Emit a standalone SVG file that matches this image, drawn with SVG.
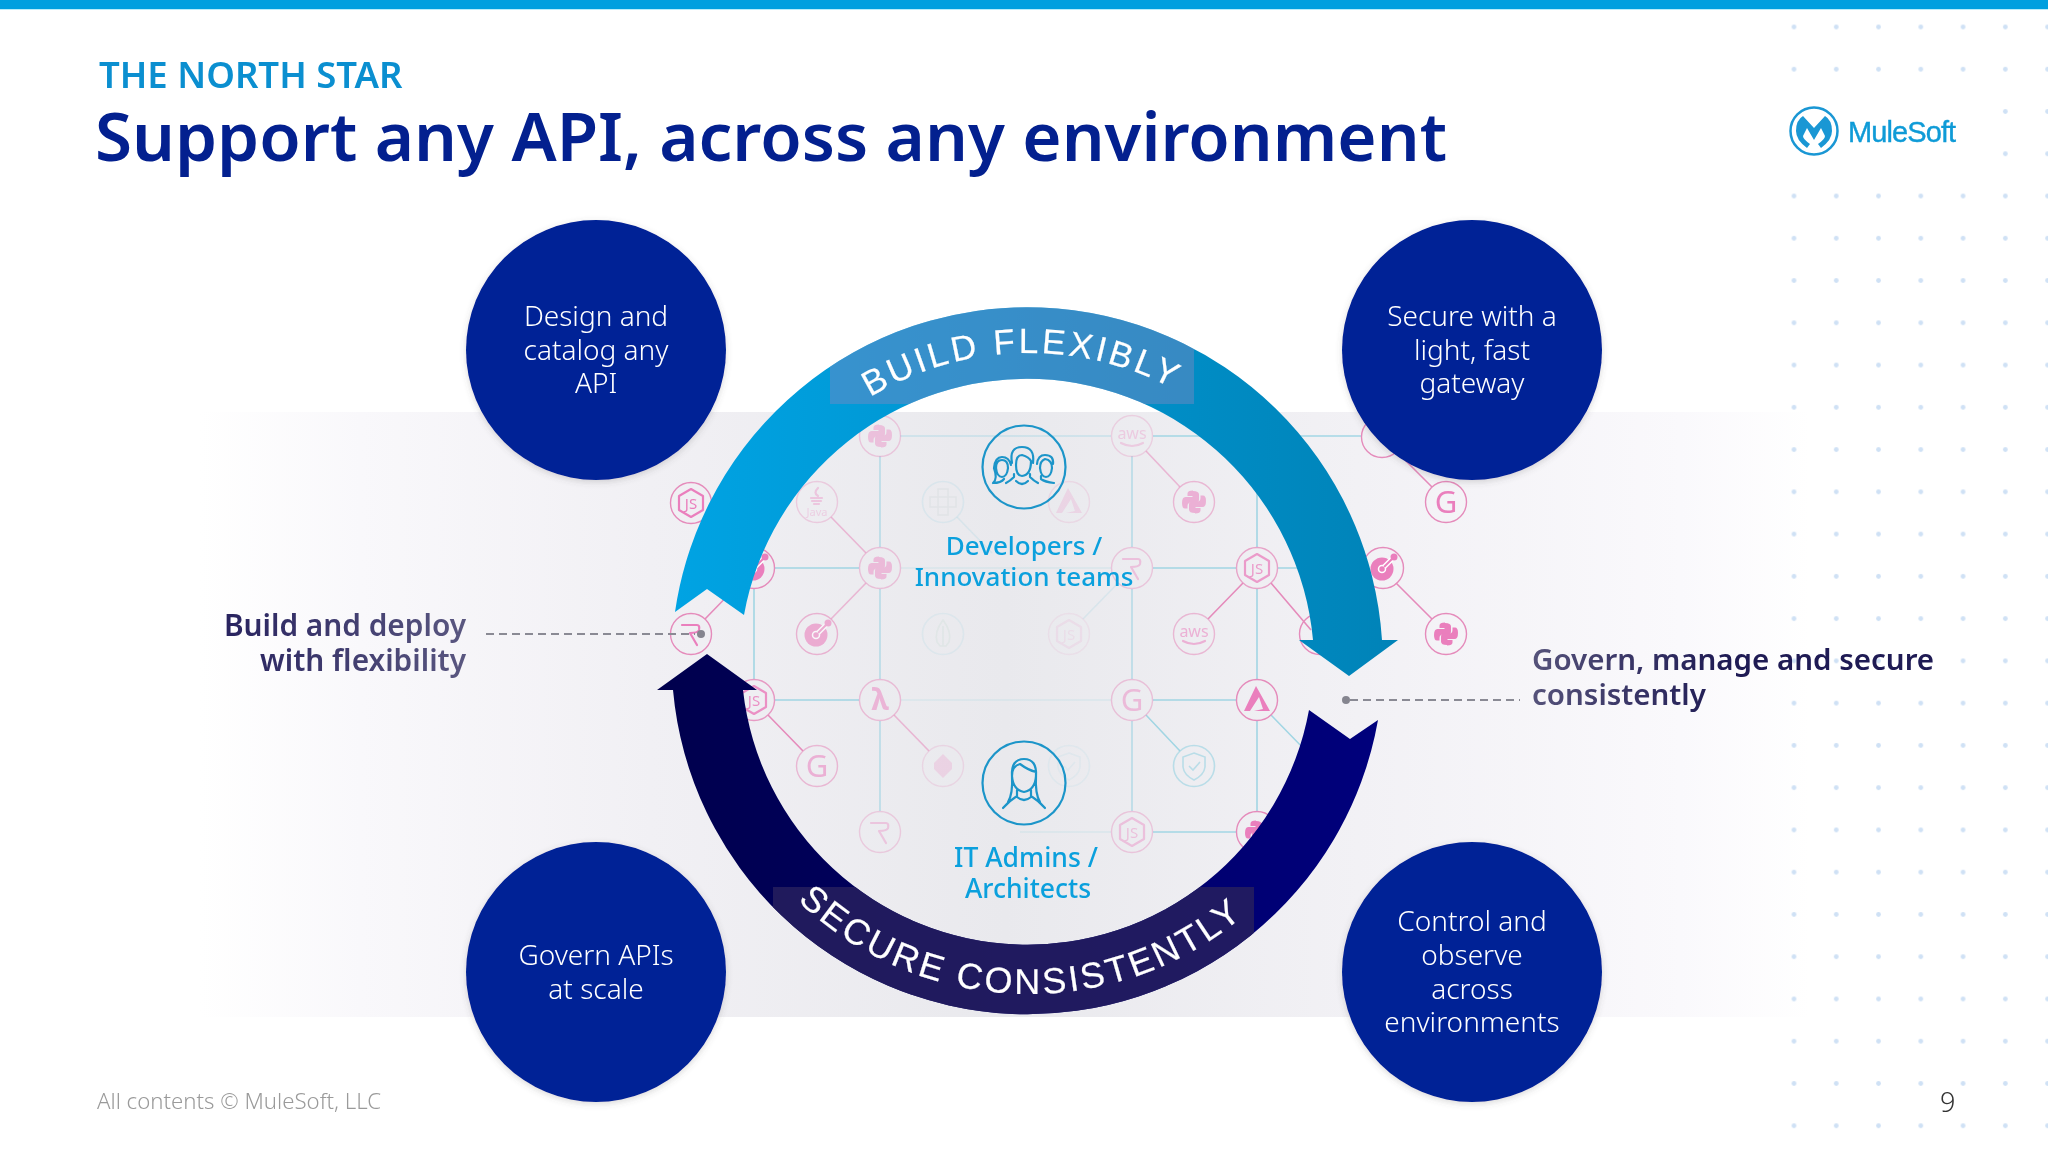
<svg xmlns="http://www.w3.org/2000/svg" width="2048" height="1153" viewBox="0 0 2048 1153">
<style>
text{font-family:"Noto Sans","Open Sans","Liberation Sans",sans-serif}
.ring{fill:none;stroke:#e58bbb;stroke-width:1.4}
.ic{fill:#ea7fbd}
.is{fill:none;stroke:#ea7fbd;stroke-width:2.2;stroke-linecap:round;stroke-linejoin:round}
.teal{fill:none;stroke:#8fd0e0;stroke-width:1.6}
.pink{fill:none;stroke:#e58bbb;stroke-width:1.6}
.bubble{fill:#012096;filter:url(#sh)}
.bt{fill:#fff;font-size:28px;font-weight:300;text-anchor:middle}
.lab{font-size:29.5px;font-weight:600}
.who{fill:#0ba0dd;font-size:26px;font-weight:500;text-anchor:middle}
.face{fill:none;stroke:#1c95c9;stroke-width:2.2;stroke-linecap:round;stroke-linejoin:round}
.arc{fill:#fff;stroke:#fff;stroke-width:.2;font-family:"Liberation Sans",Arial,sans-serif}
.glyph{fill:#ea7fbd;text-anchor:middle}
.dash{fill:none;stroke:#8a8a94;stroke-width:2;stroke-dasharray:8 5}
</style>
<defs>
<linearGradient id="panel" gradientUnits="userSpaceOnUse" x1="200" y1="0" x2="1810" y2="0">
<stop offset="0" stop-color="#fff"/><stop offset=".1" stop-color="#f9f8fb"/><stop offset=".28" stop-color="#f1f0f4"/><stop offset=".5" stop-color="#e9e9ed"/><stop offset=".72" stop-color="#f2f1f5"/><stop offset=".92" stop-color="#faf9fc"/><stop offset="1" stop-color="#fff"/>
</linearGradient>
<linearGradient id="blue" gradientUnits="userSpaceOnUse" x1="675" y1="0" x2="1398" y2="0"><stop offset="0" stop-color="#00a3e3"/><stop offset="1" stop-color="#0083b8"/></linearGradient>
<linearGradient id="navy" gradientUnits="userSpaceOnUse" x1="657" y1="0" x2="1378" y2="0"><stop offset="0" stop-color="#00004d"/><stop offset="1" stop-color="#00007c"/></linearGradient>
<linearGradient id="gov" gradientUnits="userSpaceOnUse" x1="1532" y1="0" x2="1850" y2="0"><stop offset="0" stop-color="#55527a"/><stop offset=".6" stop-color="#1f1b54"/></linearGradient>
<linearGradient id="bld" gradientUnits="userSpaceOnUse" x1="225" y1="0" x2="466" y2="0"><stop offset="0" stop-color="#28235f"/><stop offset="1" stop-color="#5a5780"/></linearGradient>
<pattern id="dots" patternUnits="userSpaceOnUse" x="1772.87" y="5.87" width="42.27" height="42.26"><circle cx="21.13" cy="21.13" r="2.4" fill="#cfe1f5"/></pattern>
<filter id="sh" x="-10%" y="-10%" width="120%" height="120%"><feDropShadow dx="0" dy="2" stdDeviation="3" flood-color="#555" flood-opacity=".22"/></filter>
<path id="pt" d="M722,660 A307,307 0 0 1 1336,660"/>
<path id="pb" d="M695,660 A334,334 0 0 0 1363,660"/>
<path id="shape-build" d="M675,612 A355.700,355.700 0 0 1 1382,640 L1398,640 L1349,676 L1299,640 L1313,640 A287.400,287.400 0 0 0 744,615 L707,589 Z"/>
<path id="shape-secure" d="M707,654 L757,690 L743,690 A286.200,286.200 0 0 0 1309,710 L1350,739 L1378,720 A355.900,355.900 0 0 1 673,690 L657,690 Z"/>
<clipPath id="clip-build"><use href="#shape-build"/></clipPath>
<clipPath id="clip-secure"><use href="#shape-secure"/></clipPath>
<g id="py"><path class="ic" d="M-1,-11 q6,0 6,3.500 v5 q0,3 -3,3 h-5 q-3.500,0 -3.500,3.500 v2.500 h-2.500 q-3,0 -3,-5.500 q0,-6 3.500,-6 h7 v-1 h-5 v-2.500 q0,-3 5.500,-3z"/><path class="ic" d="M1,11 q-6,0 -6,-3.500 v-5 q0,-3 3,-3 h5 q3.500,0 3.500,-3.500 v-2.500 h2.500 q3,0 3,5.500 q0,6 -3.500,6 h-7 v1 h5 v2.500 q0,3 -5.500,3z"/></g>
<g id="tg"><circle class="ic" cx="-1" cy="1" r="11.500"/><circle cx="-1" cy="1" r="3.500" fill="none" stroke="#fff" stroke-width="1.500"/><path d="M1,-1 L11,-11" stroke="#fff" stroke-width="5"/><path d="M1,-1 L11,-11" stroke="#ea7fbd" stroke-width="2"/><circle class="ic" cx="11" cy="-11" r="3.500"/></g>
<g id="js"><path class="is" stroke-width="1.800" d="M0,-14 L12,-7 V7 L0,14 L-12,7 V-7Z"/><text class="glyph" y="6" font-size="15">JS</text></g>
<path id="rr" class="is" d="M-9,-9 H6 Q9,-9 8,-4 Q7,-1 -1,-1 L6,11"/>
<g id="aw"><text class="glyph" y="3" font-size="16">aws</text><path class="is" stroke-width="1.300" d="M-11,7 Q0,13 11,7"/></g>
<g id="gg"><text class="glyph" y="11" font-size="31">G</text></g>
<path id="az" class="ic" d="M-1,-14 L13,11 H-3 L6,9 L2,-3 L-7,11 H-13Z"/>
<g id="la"><text class="glyph" y="10" font-size="30" font-weight="700">λ</text></g>
<path id="sd" d="M0,-13 L11,-9 V1 Q10,9 0,14 Q-10,9 -11,1 V-9Z M-5,0 L-1,4 L6,-4" fill="none" stroke="#8fd0e0" stroke-width="1.600"/>
<path id="dm" class="ic" d="M0,-12 L9,-3 V3 L0,12 L-9,3 V-3Z"/>
<path id="gr" d="M-5,-13 H5 V-5 H13 V5 H5 V13 H-5 V5 H-13 V-5 H-5Z M-5,-5 H5 V5 H-5Z" fill="none" stroke="#b8c8c8" stroke-width="1.600"/>
<path id="lf" d="M0,-14 Q9,-2 6,8 L3,12 H-3 L-6,8 Q-9,-2 0,-14Z M0,-8 V12" fill="none" stroke="#a8d0bc" stroke-width="1.600"/>
<g id="jv"><path class="is" stroke-width="1.300" d="M1,-14 Q-4,-9 1,-6 M-6,-4 H5 M-5,-1 H4 M-3,2 H2"/><text class="glyph" y="14" font-size="11" fill-opacity=".8">Java</text></g>
</defs>
<rect width="2048" height="1153" fill="#fff"/>
<rect id="panel-bg" x="200" y="412" width="1610" height="605" fill="url(#panel)"/>
<rect id="dot-field" x="1772" y="5" width="276" height="1148" fill="url(#dots)"/>
<rect x="1772" y="88" width="212" height="88" fill="#fff"/>
<rect x="0" y="0" width="2048" height="9" fill="#009fdf"/>
<rect x="0" y="9" width="2048" height="1" fill="#b8ecfb"/>
<g id="connectors">
<g class="teal" opacity=".8">
<path opacity=".5" d="M900,436 H1111"/><path d="M1153,436 H1361"/>
<path d="M775,568 H859 M1153,568 H1236 M1278,568 H1362"/><path opacity=".25" d="M901,568 H1111"/>
<path d="M775,700 H859 M1153,700 H1236"/><path opacity=".25" d="M901,700 H1111"/>
<path d="M1153,832 H1236"/><path opacity=".25" d="M1020,832 H1111"/>
<path d="M754,589 V679"/><path opacity=".7" d="M880,456 V547 M880,589 V679 M880,721 V811 M1132,456 V547 M1132,589 V679 M1132,721 V811"/>
<path d="M1257,456 V547 M1257,589 V679 M1257,721 V811"/>
<path d="M1146,715 L1180,751 M1271,715 L1306,751"/>
<path opacity=".25" d="M1118,583 L1083,619 M957,517 L992,553"/>
</g>
<g class="pink">
<path d="M705,619 L740,583 M768,715 L803,751 M1396,451 L1432,487 M1396,583 L1432,619 M1243,583 L1208,619 M1271,583 L1311,630"/>
<path opacity=".55" d="M831,517 L866,553 M866,583 L831,619 M894,715 L929,751 M1146,451 L1180,487"/>
</g>
</g>
<g id="tech-nodes">
<g id="n01" transform="translate(880,436)" opacity=".4"><circle class="ring" r="20.500"/><use href="#py"/></g>
<g id="n02" transform="translate(1132,436)" opacity=".3"><circle class="ring" r="20.500"/><use href="#aw"/></g>
<g id="n03" transform="translate(1382,437)"><circle class="ring" r="20.500"/></g>
<g id="n04" transform="translate(691,503)"><circle class="ring" r="20.500"/><use href="#js"/></g>
<g id="n05" transform="translate(817,502)" opacity=".35"><circle class="ring" r="20.500"/><use href="#jv"/></g>
<g id="n06" transform="translate(943,502)" opacity=".18"><circle class="teal" r="20.500"/><use href="#gr"/></g>
<g id="n07" transform="translate(1069,502)" opacity=".2"><circle class="ring" r="20.500"/><use href="#az"/></g>
<g id="n08" transform="translate(1194,502)" opacity=".55"><circle class="ring" r="20.500"/><use href="#py"/></g>
<g id="n09" transform="translate(1446,502)"><circle class="ring" r="20.500"/><use href="#gg"/></g>
<g id="n10" transform="translate(754,568)"><circle class="ring" r="20.500"/><use href="#tg"/></g>
<g id="n11" transform="translate(880,568)" opacity=".45"><circle class="ring" r="20.500"/><use href="#py"/></g>
<g id="n12" transform="translate(1132,568)" opacity=".4"><circle class="ring" r="20.500"/><use href="#rr"/></g>
<g id="n13" transform="translate(1257,568)" opacity=".75"><circle class="ring" r="20.500"/><use href="#js"/></g>
<g id="n14" transform="translate(1383,568)"><circle class="ring" r="20.500"/><use href="#tg"/></g>
<g id="n15" transform="translate(691,634)"><circle class="ring" r="20.500"/><use href="#rr"/></g>
<g id="n16" transform="translate(817,634)" opacity=".6"><circle class="ring" r="20.500"/><use href="#tg"/></g>
<g id="n17" transform="translate(943,634)" opacity=".15"><circle class="teal" r="20.500"/><use href="#lf"/></g>
<g id="n18" transform="translate(1069,634)" opacity=".12"><circle class="ring" r="20.500"/><use href="#js"/></g>
<g id="n19" transform="translate(1194,634)" opacity=".55"><circle class="ring" r="20.500"/><use href="#aw"/></g>
<g id="n20" transform="translate(1320,634)"><circle class="ring" r="20.500"/></g>
<g id="n21" transform="translate(1446,634)"><circle class="ring" r="20.500"/><use href="#py"/></g>
<g id="n22" transform="translate(754,700)" opacity=".85"><circle class="ring" r="20.500"/><use href="#js"/></g>
<g id="n23" transform="translate(880,700)" opacity=".5"><circle class="ring" r="20.500"/><use href="#la"/></g>
<g id="n24" transform="translate(1132,700)" opacity=".45"><circle class="ring" r="20.500"/><use href="#gg"/></g>
<g id="n25" transform="translate(1257,700)"><circle class="ring" r="20.500"/><use href="#az"/></g>
<g id="n26" transform="translate(817,766)" opacity=".55"><circle class="ring" r="20.500"/><use href="#gg"/></g>
<g id="n27" transform="translate(943,766)" opacity=".22"><circle class="ring" r="20.500"/><use href="#dm"/></g>
<g id="n28" transform="translate(1069,766)" opacity=".12"><circle class="teal" r="20.500"/><use href="#sd"/></g>
<g id="n29" transform="translate(1194,766)" opacity=".55"><circle class="teal" r="20.500"/><use href="#sd"/></g>
<g id="n30" transform="translate(880,832)" opacity=".35"><circle class="ring" r="20.500"/><use href="#rr"/></g>
<g id="n31" transform="translate(1132,832)" opacity=".4"><circle class="ring" r="20.500"/><use href="#js"/></g>
<g id="n32" transform="translate(1257,832)"><circle class="ring" r="20.500"/><use href="#py"/></g>
</g>
<g id="arrow-build"><use href="#shape-build" fill="url(#blue)"/>
<rect x="830" y="300" width="364" height="104" fill="#7a88c0" opacity=".45" clip-path="url(#clip-build)"/>
<text class="arc" font-size="35" letter-spacing="3.200" text-anchor="middle"><textPath href="#pt" startOffset="49.200%">BUILD FLEXIBLY</textPath></text></g>
<g id="arrow-secure"><use href="#shape-secure" fill="url(#navy)"/>
<rect x="773" y="887" width="481" height="130" fill="#261f5e" opacity=".85" clip-path="url(#clip-secure)"/>
<text class="arc" font-size="36" letter-spacing="3" text-anchor="middle"><textPath href="#pb" startOffset="49%">SECURE CONSISTENTLY</textPath></text></g>
<g id="node-design"><circle class="bubble" cx="596" cy="350" r="130"/><text class="bt"><tspan x="596" y="326">Design and</tspan><tspan x="596" y="360">catalog any</tspan><tspan x="596" y="393">API</tspan></text></g>
<g id="node-secure"><circle class="bubble" cx="1472" cy="350" r="130"/><text class="bt"><tspan x="1472" y="326">Secure with a</tspan><tspan x="1472" y="360">light, fast</tspan><tspan x="1472" y="393">gateway</tspan></text></g>
<g id="node-govern"><circle class="bubble" cx="596" cy="972" r="130"/><text class="bt"><tspan x="596" y="965">Govern APIs</tspan><tspan x="596" y="999">at scale</tspan></text></g>
<g id="node-control"><circle class="bubble" cx="1472" cy="972" r="130"/><text class="bt"><tspan x="1472" y="931">Control and</tspan><tspan x="1472" y="965">observe</tspan><tspan x="1472" y="999">across</tspan><tspan x="1472" y="1032">environments</tspan></text></g>
<g id="node-developers"><circle class="face" cx="1024" cy="467" r="41.500" stroke-width="2.500"/>
<path class="face" stroke-width="2" d="M1016,465 q0,-10 6,-10 q7,2 9,6 q0,14 -9,15 q-6,0 -6,-11z M1012,463 q-3,-16 10,-16 q13,0 11,16 M1014,474 v3 q-4,4 -8,6 M1030,474 v3 q4,4 8,6 M1016,481 q6,6 12,0 M996,468 q0,-8 6,-8 q6,0 6,8 q-1,9 -6,9 q-5,0 -6,-9z M993,483 q5,-4 1,-15 q1,-11 8,-11 q7,0 9,8 M993,483 q8,0 11,-4 M1040,468 q0,-7 5,-9 q7,1 7,9 q-1,9 -6,9 q-5,0 -6,-9z M1037,464 q1,-9 8,-9 q9,0 8,9 M1041,476 v3 q4,3 13,4"/>
<text class="who"><tspan x="1024" y="555">Developers /</tspan><tspan x="1024" y="586">Innovation teams</tspan></text></g>
<g id="node-admins"><circle class="face" cx="1024" cy="783" r="41.500" stroke-width="2.500"/>
<path class="face" d="M1012,776 q-1,-17 12,-17 q13,0 12,17 q-1,14 -12,16 q-11,-2 -12,-16z M1012,776 q0,-10 8,-12 q8,6 16,8 M1008,802 q5,-8 4,-26 M1040,802 q-5,-8 -4,-26 M1017,790 v6 q-8,5 -14,12 M1031,790 v6 q8,5 14,12 M1017,797 q7,6 14,0"/>
<text class="who" style="font-size:26.500px"><tspan x="1026" y="867">IT Admins /</tspan><tspan x="1028" y="898">Architects</tspan></text></g>
<g id="label-left"><path class="dash" d="M486,634 H695"/><circle cx="701" cy="634" r="4" fill="#85858f"/><text class="lab" text-anchor="end" fill="url(#bld)" style="font-size:29.800px"><tspan x="466" y="636">Build and deploy</tspan><tspan x="466" y="671">with flexibility</tspan></text></g>
<g id="label-right"><path class="dash" d="M1350,700 H1520"/><circle cx="1346" cy="700" r="4" fill="#85858f"/><text class="lab" fill="url(#gov)"><tspan x="1532" y="670">Govern, manage and secure</tspan><tspan x="1532" y="705">consistently</tspan></text></g>
<g id="header"><text x="99" y="88" font-size="36.500" font-weight="600" fill="#0b8fd0">THE NORTH STAR</text><text x="95" y="161" font-size="67.300" font-weight="600" fill="#03208f">Support any API, across any environment</text></g>
<g id="logo"><circle cx="1814" cy="131" r="23.500" fill="none" stroke="#1a97d4" stroke-width="2.500"/><path fill="#1a97d4" transform="translate(1814,131)" d="M-7,17 Q-18,9 -18,0 Q-18,-11 -11,-15 L0,-3 L11,-15 Q18,-11 18,0 Q18,9 7,17 L4,13 Q11,8 11,5 L7,-3 L0,9 L-7,-3 L-11,5 Q-11,8 -4,13Z"/><text x="1848" y="142" font-size="29" letter-spacing="-.9" fill="#0f9bd7" stroke="#0f9bd7" stroke-width=".4" style="font-family:'Liberation Sans',sans-serif">MuleSoft</text></g>
<text x="97" y="1109" font-size="22.200" font-weight="300" fill="#9a9a9a">All contents © MuleSoft, LLC</text>
<text x="1940" y="1112" font-size="27" font-weight="300" fill="#333">9</text>
</svg>
